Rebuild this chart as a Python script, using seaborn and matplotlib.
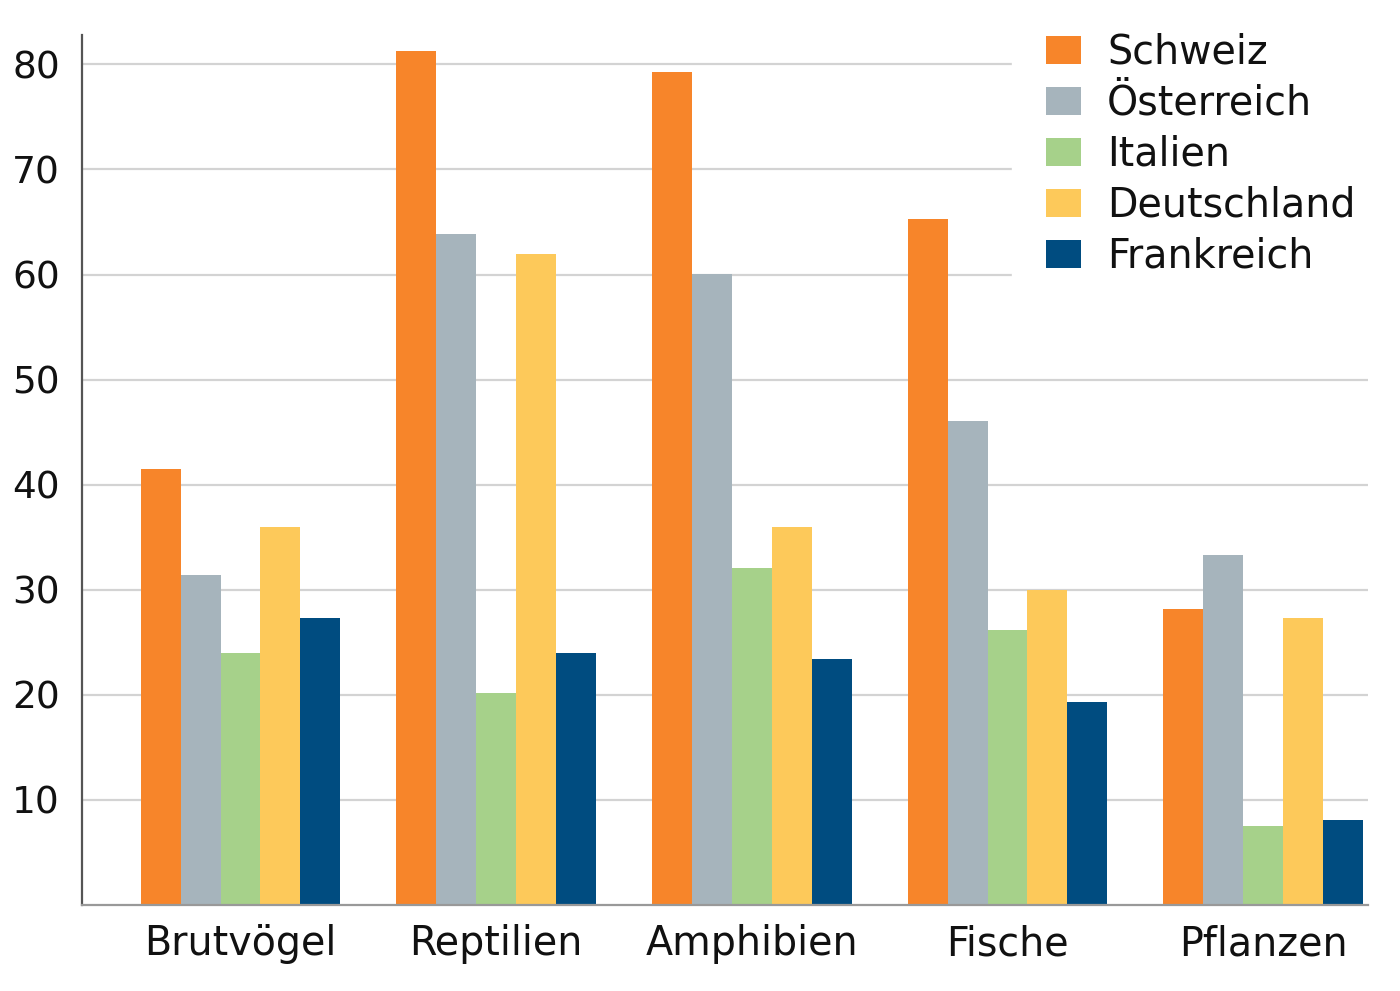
import pandas as pd
import matplotlib.pyplot as plt
import seaborn as sns

# Werte
gruppen = ['Brutvögel', 'Reptilien', 'Amphibien', 'Fische', 'Pflanzen']
laender = ['Schweiz', 'Österreich', 'Italien', 'Deutschland', 'Frankreich']
schweiz = [41.5, 81.3, 79.3, 65.3, 28.2]
oesterreich = [31.4, 63.9, 60.1, 46.1, 33.3]
italien = [24.0, 20.2, 32.1, 26.2, 7.5]
deutschland = [36.0, 62.0, 36.0, 30.0, 27.3]
frankreich = [27.3, 24.0, 23.4, 19.3, 8.1]
farben = ['#F7852A', '#A6B4BC', '#A6D18A', '#FDC95A', '#004C80']
y_ticks = [10, 20, 30, 40, 50, 60, 70, 80]

werte = [schweiz, oesterreich, italien, deutschland, frankreich]
rows = []
for land, serie in zip(laender, werte):
    for g, v in zip(gruppen, serie):
        rows.append({'Gruppe': g, 'Land': land, 'Wert': v})
df = pd.DataFrame(rows)

sns.set_style('white')
plt.rcParams['font.family'] = ['DejaVu Sans']

fig = plt.figure(figsize=(14, 9.91), dpi=100)
ax = fig.add_axes([82 / 1400, 86 / 991, (1368 - 82) / 1400, (905 - 35) / 991])

sns.barplot(data=df, x='Gruppe', y='Wert', hue='Land', hue_order=laender,
            palette=farben, width=0.78, saturation=1, linewidth=0,
            ax=ax, zorder=2)

ax.set_xlim(-0.62, 4.41)
ax.set_ylim(0, 82.8)
ax.set_yticks(y_ticks)
ax.set_yticklabels([str(t) for t in y_ticks])
ax.yaxis.grid(True, color='#d3d3d3', linewidth=1.6, zorder=0)
ax.set_axisbelow(True)
ax.set_xlabel('')
ax.set_ylabel('')
ax.tick_params(axis='both', length=0, colors='#111111')
ax.tick_params(axis='y', pad=16, labelsize=27)
ax.tick_params(axis='x', pad=14, labelsize=28.5)

for s in ['top', 'right']:
    ax.spines[s].set_visible(False)
ax.spines['left'].set_color('#555555')
ax.spines['left'].set_linewidth(1.6)
ax.spines['bottom'].set_color('#999999')
ax.spines['bottom'].set_linewidth(1.6)

handles, labels = ax.get_legend_handles_labels()
ax.get_legend().remove()
leg = fig.legend(handles, labels, loc='upper left',
                 bbox_to_anchor=(1012 / 1400, 1.0 + 1 / 991),
                 bbox_transform=fig.transFigure,
                 fontsize=28.5, frameon=True, framealpha=1, edgecolor='white',
                 facecolor='white', fancybox=False, borderpad=0.85,
                 borderaxespad=0, handlelength=0.9, handleheight=0.7,
                 handletextpad=0.65, labelspacing=0.28)
for t in leg.get_texts():
    t.set_color('#111111')
leg.set_zorder(5)

fig.savefig('out.png', dpi=100)
